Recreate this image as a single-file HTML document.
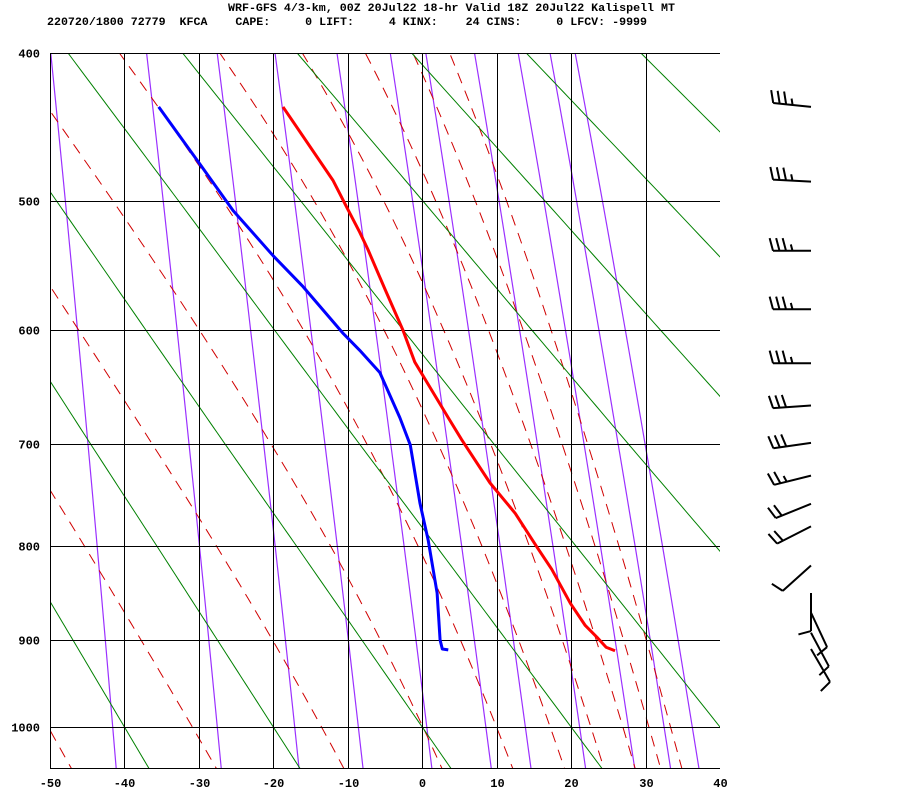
<!DOCTYPE html>
<html><head><meta charset="utf-8"><style>
html,body{margin:0;padding:0;background:#fff;}
svg{display:block;}
text{font-family:"Liberation Mono",monospace;font-weight:bold;fill:#000;}
</style></head><body>
<svg id="chart" width="900" height="800" viewBox="0 0 900 800" xmlns="http://www.w3.org/2000/svg">
<text x="228" y="11" font-size="11.4" textLength="447" lengthAdjust="spacingAndGlyphs" xml:space="preserve">WRF-GFS 4/3-km, 00Z 20Jul22 18-hr Valid 18Z 20Jul22 Kalispell MT</text>
<text x="47" y="25" font-size="11.4" textLength="600" lengthAdjust="spacingAndGlyphs" xml:space="preserve">220720/1800 72779  KFCA    CAPE:     0 LIFT:     4 KINX:    24 CINS:     0 LFCV: -9999</text>
<defs><clipPath id="plotclip"><rect x="50" y="53" width="670" height="715"/></clipPath></defs>
<g id="bg" clip-path="url(#plotclip)"></g>
<g id="grid"></g>
<g id="series" clip-path="url(#plotclip)"></g>
<g id="axes"></g>
<g id="barbs"></g>
</svg>
<script>
// ---- axis data ----
const pressureTicks = [400, 500, 600, 700, 800, 900, 1000];
const tempTicks = [-50, -40, -30, -20, -10, 0, 10, 20, 30, 40];
// ---- sounding data ----
const tempPres = [434.6, 485, 505, 523, 536, 567, 600, 627, 676, 696, 737, 767, 801, 824, 860, 884, 898, 908, 912];
const tempVals = [-18.7, -12.0, -10.1, -8.4, -7.3, -5.0, -2.6, -1.0, 3.5, 5.3, 9.1, 12.5, 15.4, 17.4, 19.9, 21.9, 23.6, 24.7, 25.9];
const dewPres = [434.6, 474, 507, 541, 565, 603, 617, 636, 676, 701, 757, 794, 849, 900, 910, 911];
const dewVals = [-35.4, -29.8, -25.4, -20.0, -16.0, -10.6, -8.4, -5.7, -3.0, -1.6, -0.3, 0.8, 2.0, 2.4, 2.7, 3.5];
// ---- wind data ----
const windPres = [434.6, 486, 537, 583, 628, 665, 699, 730, 757.5, 780, 820, 849, 870, 892, 910];
const windDir = [276, 273, 270, 270, 270, 266, 262, 256, 248, 243, 228, 180, 155, 152, 150];
const windSpd = [35, 35, 35, 35, 35, 30, 30, 25, 20, 20, 10, 10, 10, 10, 10];
// ---- background line families ----
const dryThetas = [233.15, 253.15, 273.15, 293.15, 313.15, 333.15, 353.15, 373.15, 393.15];
const moistThetaE = [223, 243, 263, 283, 303, 323, 343, 363, 383, 403];
const mixRatios = [0.1, 0.4, 1, 2, 4, 7, 10, 16, 24, 32, 40];

const NS = "http://www.w3.org/2000/svg";
const tickY = [53, 201, 330, 444, 546, 640, 727];
const K = 0.286;
function yOf(p){
  const s = Math.pow(p, K);
  let i = 0;
  if (p <= pressureTicks[0]) i = 0;
  else if (p >= pressureTicks[pressureTicks.length-1]) i = pressureTicks.length-2;
  else { while (p > pressureTicks[i+1]) i++; }
  const s0 = Math.pow(pressureTicks[i], K), s1 = Math.pow(pressureTicks[i+1], K);
  return tickY[i] + (s - s0) / (s1 - s0) * (tickY[i+1] - tickY[i]);
}
function xOf(t){ return 50 + (t + 50) * (670 / 90); }
function mk(tag, attrs, parent){
  const e = document.createElementNS(NS, tag);
  for (const k in attrs) e.setAttribute(k, attrs[k]);
  parent.appendChild(e); return e;
}
function pathD(pts){ return pts.map((q,i)=>(i?"L":"M")+q[0].toFixed(2)+" "+q[1].toFixed(2)).join(""); }
const bg = document.getElementById("bg"), grid = document.getElementById("grid"),
      series = document.getElementById("series"), axes = document.getElementById("axes"),
      barbs = document.getElementById("barbs");
const presSteps = [];
for (let p = 380; p <= 1060; p += 5) presSteps.push(p);

// mixing ratio lines
function es(tc){ return 6.112 * Math.exp(17.67 * tc / (tc + 243.5)); }
mixRatios.forEach(w => {
  const pts = presSteps.map(p => {
    const e = w * p / (622 + w), l = Math.log(e / 6.112);
    return [xOf(243.5 * l / (17.67 - l)), yOf(p)];
  });
  const el = mk("path", {d: pathD(pts), fill: "none", stroke: "#9b30ff", "stroke-width": 1.2}, bg);
  
  
});
// moist adiabats
function thetaE(T, p){
  const e = es(T - 273.15), ws = 0.622 * e / (p - e);
  return T * Math.pow(1000 / p, K) * Math.exp(2.5e6 * ws / (1004 * T));
}
moistThetaE.forEach(te => {
  const pts = presSteps.map(p => {
    let lo = 150, hi = 330;
    for (let k = 0; k < 50; k++){ const m = (lo + hi) / 2; if (thetaE(m, p) > te) hi = m; else lo = m; }
    return [xOf((lo + hi) / 2 - 273.15), yOf(p)];
  });
  const el = mk("path", {d: pathD(pts), fill: "none", stroke: "#d00000", "stroke-width": 1, "stroke-dasharray": "11 8"}, bg);
  
  
});
// dry adiabats
dryThetas.forEach(th => {
  const pts = presSteps.map(p => [xOf(th * Math.pow(p / 1000, K) - 273.15), yOf(p)]);
  const el = mk("path", {d: pathD(pts), fill: "none", stroke: "#008000", "stroke-width": 1}, bg);
  
  
});
// grid
pressureTicks.forEach(p => {
  const y = Math.round(yOf(p)) + 0.5;
  const el = mk("line", {x1: 50, x2: 720, y1: y, y2: y, stroke: "#000", "stroke-width": 1}, grid);
  
  
  const t = mk("text", {x: 40, y: y + 4, "font-size": 12, "text-anchor": "end"}, axes);
  t.textContent = p;
  
  
});
tempTicks.forEach(tc => {
  const x = Math.round(xOf(tc)) + 0.5;
  if (tc < 40) {
    const el = mk("line", {x1: x, x2: x, y1: 53, y2: 768, stroke: "#000", "stroke-width": 1}, grid);
    
    
  }
  const t = mk("text", {x: x, y: 787, "font-size": 12, "text-anchor": "middle"}, axes);
  t.textContent = tc;
  
  
});
const bl = mk("line", {x1: 50, x2: 720, y1: 768.5, y2: 768.5, stroke: "#000", "stroke-width": 1}, grid);


// sounding
const tl = mk("path", {d: pathD(tempPres.map((p,i)=>[xOf(tempVals[i]), yOf(p)])), fill: "none", stroke: "#ff0000", "stroke-width": 3, "stroke-linejoin": "round"}, series);


const dl = mk("path", {d: pathD(dewPres.map((p,i)=>[xOf(dewVals[i]), yOf(p)])), fill: "none", stroke: "#0000ff", "stroke-width": 3, "stroke-linejoin": "round"}, series);


// wind barbs
windPres.forEach((p, i) => {
  const bx = 811, by = yOf(p), d = windDir[i] * Math.PI / 180, L = 38;
  const ux = Math.sin(d), uy = -Math.cos(d);
  const tx = bx + ux * L, ty = by + uy * L;
  const a = 75 * Math.PI / 180;
  const vx = ux * Math.cos(a) - uy * Math.sin(a), vy = ux * Math.sin(a) + uy * Math.cos(a);
  let dpath = "M" + bx + " " + by.toFixed(2) + "L" + tx.toFixed(2) + " " + ty.toFixed(2);
  let s = windSpd[i], pos = 0;
  while (s >= 10) {
    const sx = tx - ux * pos, sy = ty - uy * pos;
    dpath += "M" + sx.toFixed(2) + " " + sy.toFixed(2) + "l" + (vx * 13).toFixed(2) + " " + (vy * 13).toFixed(2);
    s -= 10; pos += 6.5;
  }
  if (s >= 5) {
    const sx = tx - ux * pos, sy = ty - uy * pos;
    dpath += "M" + sx.toFixed(2) + " " + sy.toFixed(2) + "l" + (vx * 6.5).toFixed(2) + " " + (vy * 6.5).toFixed(2);
  }
  const el = mk("path", {d: dpath, fill: "none", stroke: "#000", "stroke-width": 2}, barbs);
  
  
});
</script>
</body></html>
